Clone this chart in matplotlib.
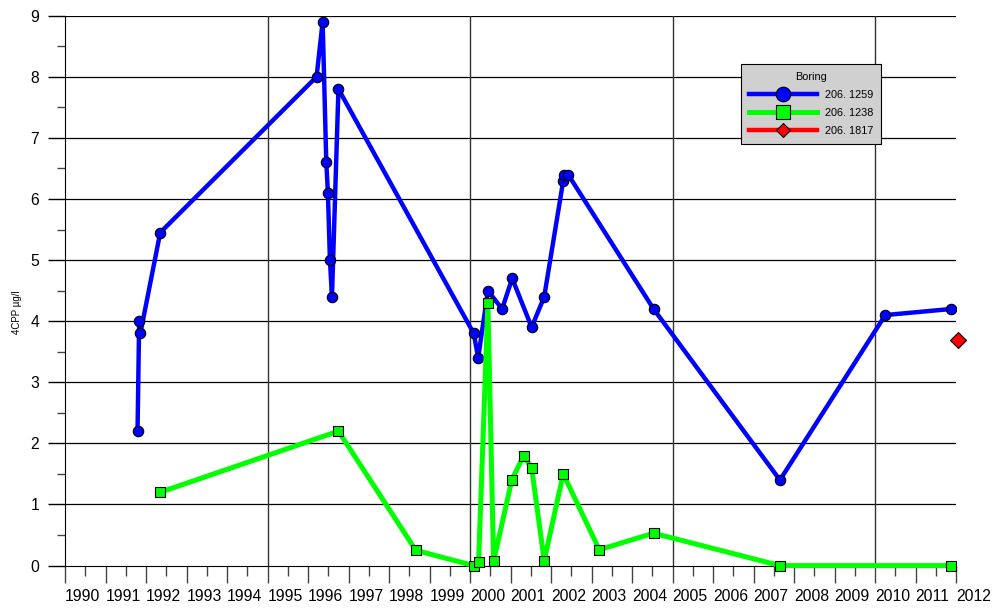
import matplotlib.pyplot as plt
from matplotlib.ticker import MultipleLocator
import numpy as np

plt.rcParams['font.family'] = ['Liberation Sans', 'DejaVu Sans']

# decimal years, 4CPP in ug/l
b1259_x = [1991.79, 1991.83, 1991.86, 1992.35, 1996.21, 1996.36, 1996.45, 1996.49,
           1996.54, 1996.59, 1996.75, 2000.09, 2000.20, 2000.44, 2000.79, 2001.04,
           2001.52, 2001.83, 2002.30, 2002.32, 2002.42, 2004.53, 2007.65, 2010.25,
           2011.88]
b1259_y = [2.2, 4.0, 3.8, 5.45, 8.0, 8.9, 6.6, 6.1,
           5.0, 4.4, 7.8, 3.8, 3.4, 4.5, 4.2, 4.7,
           3.9, 4.4, 6.3, 6.4, 6.4, 4.2, 1.4, 4.1,
           4.2]

b1238_x = [1992.35, 1996.75, 1998.66, 2000.09, 2000.21, 2000.44, 2000.58, 2001.03,
           2001.32, 2001.52, 2001.83, 2002.30, 2003.19, 2004.53, 2007.65, 2011.88]
b1238_y = [1.2, 2.2, 0.25, 0.0, 0.06, 4.3, 0.07, 1.4,
           1.8, 1.6, 0.08, 1.5, 0.26, 0.53, 0.0, 0.0]

b1817_x = [2012.05]
b1817_y = [3.7]

years = list(range(1990, 2013))

fig = plt.figure(figsize=(9.99, 6.1), dpi=100)
ax = fig.add_axes([0.0651, 0.0728, 0.892, 0.9015])

ax.set_xlim(1990, 2012)
ax.set_ylim(0, 9)

# grid
for v in range(1, 10):
    ax.axhline(v, color='black', lw=0.9, zorder=1)
for yr in [1995, 2000, 2005, 2010]:
    ax.axvline(yr, color='#333333', lw=1.0, zorder=1)

ax.plot(b1259_x, b1259_y, color='#0000ff', lw=3.2, marker='o', ms=7.5,
        mfc='#0000ff', mec='black', mew=0.8, label='206. 1259', zorder=3)
ax.plot(b1238_x, b1238_y, color='#00ff00', lw=3.6, marker='s', ms=7,
        mfc='#00ff00', mec='black', mew=0.8, label='206. 1238', zorder=3,
        clip_on=False)
ax.plot(b1817_x, b1817_y, color='#ff0000', lw=3.2, marker='D', ms=8.5,
        mfc='#ff0000', mec='black', mew=0.8, label='206. 1817', zorder=4,
        clip_on=False)

for s in ['top', 'right']:
    ax.spines[s].set_visible(False)
ax.spines['left'].set_color('black')
ax.spines['bottom'].set_color('black')

ax.set_xticks(years)
ax.set_xticklabels([str(y) for y in years], ha='left')
ax.xaxis.set_minor_locator(MultipleLocator(0.5))
ax.tick_params(axis='x', which='major', length=12.5, width=1, color='#444444',
               labelsize=11.3, pad=4)
ax.tick_params(axis='x', which='minor', length=7, width=1, color='#444444')

ax.set_yticks(range(0, 10))
ax.yaxis.set_minor_locator(MultipleLocator(0.5))
ax.tick_params(axis='y', which='major', length=12.5, width=1, labelsize=11.3, pad=6)
ax.tick_params(axis='y', which='minor', length=5.5, width=1, color='#444444')

ax.set_ylabel('4CPP µg/l', fontsize=7)
ax.yaxis.set_label_coords(-0.048, 0.46)

leg = ax.legend(title='Boring', fontsize=7.8, title_fontsize=7.8, loc='upper left',
                bbox_to_anchor=(741 / 999, 1 - 64 / 610), bbox_transform=fig.transFigure,
                borderaxespad=0, frameon=True, fancybox=False, facecolor='#d0d0d0',
                edgecolor='black', framealpha=1, handlelength=6.3, markerscale=1,
                labelspacing=0.72, borderpad=0.75, handletextpad=0.7)
leg.get_frame().set_linewidth(0.8)
for h, ms in zip(leg.legend_handles, [10.5, 9.5, 7.5]):
    h.set_markersize(ms)

fig.savefig('out.png', dpi=100)
